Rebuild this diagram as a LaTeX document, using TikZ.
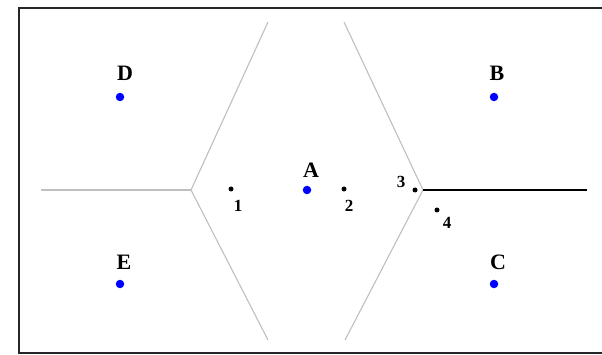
\documentclass[tikz,border=0pt]{standalone}
\usepackage{fontspec}
\setmainfont{Liberation Serif}

\begin{document}
\begin{tikzpicture}[x=1pt,y=-1pt,
    site/.style={circle,fill=blue,inner sep=0pt,minimum size=8.5pt},
    qpt/.style={circle,fill=black,inner sep=0pt,minimum size=5pt},
    sitelab/.style={font=\fontsize{22}{22}\selectfont\bfseries,inner sep=0pt},
    qlab/.style={font=\fontsize{17}{17}\selectfont\bfseries,inner sep=0pt},
    cell/.style={draw=black!25,line width=1.1pt}]
  \useasboundingbox (0,0) rectangle (602,355);
  % frame
  \draw [line width=2pt,black!85] (602,8) -- (19,8) -- (19,353) -- (602,353);
  % cell corners
  \coordinate (vl) at (191,190);
  \coordinate (vr) at (423,190);
  \coordinate (tl) at (268,22);
  \coordinate (bl) at (268,340);
  \coordinate (tr) at (344,22);
  \coordinate (br) at (345,340);
  \coordinate (el) at (41,190);
  \coordinate (er) at (587,190);
  \draw [cell] (tl) -- (vl) -- (bl);
  \draw [cell] (tr) -- (vr) -- (br);
  \draw [cell] (el) -- (vl);
  \draw [line width=2pt] (vr) -- (er);
  % sites
  \node [site] (D) at (120,97) {};
  \node [site] (B) at (494,97) {};
  \node [site] (E) at (120,284) {};
  \node [site] (C) at (494,284) {};
  \node [site] (A) at (307,190) {};
  \node [sitelab] at (125,73) {D};
  \node [sitelab] at (497,73) {B};
  \node [sitelab] at (124,262) {E};
  \node [sitelab] at (498,262) {C};
  \node [sitelab] at (311,170) {A};
  % query points
  \node [qpt] (q1) at (231,189) {};
  \node [qpt] (q2) at (344,189) {};
  \node [qpt] (q3) at (415,190) {};
  \node [qpt] (q4) at (437,210) {};
  \node [qlab] at (238,206) {1};
  \node [qlab] at (349,206) {2};
  \node [qlab] at (401,182) {3};
  \node [qlab] at (447,223) {4};
\end{tikzpicture}
\end{document}
